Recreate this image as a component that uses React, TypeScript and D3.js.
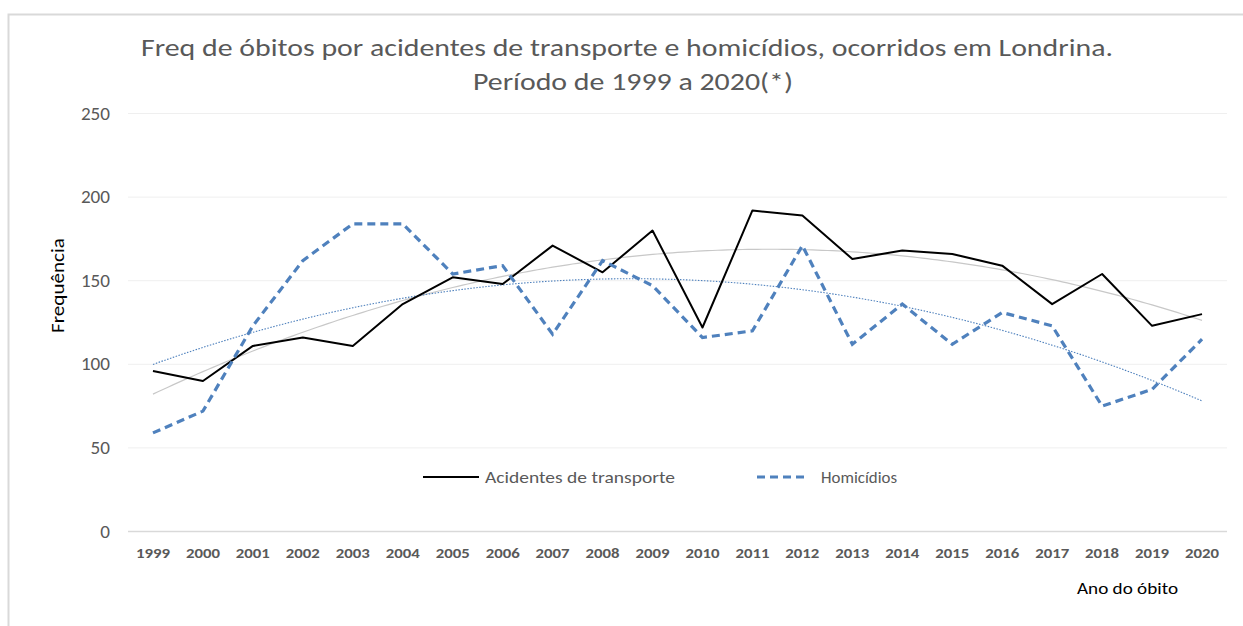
import React from "react";
import * as d3 from "d3";

const years = ["1999","2000","2001","2002","2003","2004","2005","2006","2007","2008","2009","2010","2011","2012","2013","2014","2015","2016","2017","2018","2019","2020"];
const acidentes = [96, 90, 111, 116, 111, 136, 152, 148, 171, 155, 180, 122, 192, 189, 163, 168, 166, 159, 136, 154, 123, 130];
const homicidios = [59, 72, 123, 162, 184, 184, 154, 159, 118, 162, 147, 116, 120, 171, 112, 136, 112, 131, 123, 75, 85, 115];
const yTicks = [0, 50, 100, 150, 200, 250];
const titleLines = ["Freq de óbitos por acidentes de transporte e homicídios, ocorridos em Londrina.", "Período de 1999 a 2020(*)"];
const seriesNames = ["Acidentes de transporte", "Homicídios"];

// Excel-style polynomial (order 2) trendline via least squares
function quadFit(vals: number[]) {
  let s0 = 0, s1 = 0, s2 = 0, s3 = 0, s4 = 0, t0 = 0, t1 = 0, t2 = 0;
  vals.forEach((y, i) => {
    const x = i + 1;
    s0 += 1; s1 += x; s2 += x * x; s3 += x ** 3; s4 += x ** 4;
    t0 += y; t1 += x * y; t2 += x * x * y;
  });
  const A = [[s4, s3, s2, t2], [s3, s2, s1, t1], [s2, s1, s0, t0]];
  for (let i = 0; i < 3; i++) {
    for (let k = i + 1; k < 3; k++) {
      const f = A[k][i] / A[i][i];
      for (let j = i; j < 4; j++) A[k][j] -= f * A[i][j];
    }
  }
  const c = [0, 0, 0];
  for (let i = 2; i >= 0; i--) {
    let s = A[i][3];
    for (let j = i + 1; j < 3; j++) s -= A[i][j] * c[j];
    c[i] = s / A[i][i];
  }
  return (x: number) => c[0] * x * x + c[1] * x + c[2];
}

export default function App() {
  const W = 1243, H = 626;
  const plotLeft = 128, plotRight = 1227;
  const x = d3.scaleBand<string>().domain(years).range([plotLeft, plotRight]);
  const y = d3.scaleLinear().domain([0, 250]).range([531.5, 113.5]);
  const cx = (d: string) => (x(d) as number) + x.bandwidth() / 2;

  const line = d3.line<number>().x((_, i) => cx(years[i])).y((v) => y(v));
  const fa = quadFit(acidentes);
  const fh = quadFit(homicidios);
  const steps = d3.range(0, years.length - 1 + 0.0001, 0.1);
  const trend = (f: (x: number) => number) =>
    d3.line<number>().x((t) => cx(years[0]) + t * x.step()).y((t) => y(f(t + 1)))(steps) as string;

  const font = "Calibri, Carlito, Lato, 'Open Sans', sans-serif";
  const blue = "#4f81bd";
  const titleX = [141, 473];
  const titleW = [972, 320];

  return (
    <svg width={W} height={H} style={{ position: "absolute", left: 0, top: 0, background: "#fff" }} fontFamily={font}>
      <rect x={8.5} y={14.5} width={1300} height={700} fill="#fff" stroke="#d9d9d9" strokeWidth={2} />
      {titleLines.map((t, i) => (
        <text key={i} x={titleX[i]} y={56 + i * 34} fontSize={24} fill="#595959" textLength={titleW[i]} lengthAdjust="spacingAndGlyphs">{t}</text>
      ))}
      {yTicks.map((t) => {
        const s = String(t);
        const w = s.length * 9.7;
        return (
          <g key={t}>
            <line x1={plotLeft} x2={plotRight} y1={y(t)} y2={y(t)} stroke={t === 0 ? "#d9d9d9" : "#efefef"} strokeWidth={t === 0 ? 1.5 : 1} />
            <text x={110 - w} y={y(t)} dy="0.35em" fontSize={17.5} fill="#595959" textLength={w} lengthAdjust="spacingAndGlyphs">{s}</text>
          </g>
        );
      })}
      {years.map((yr) => (
        <text key={yr} x={cx(yr) - 17} y={557.5} fontSize={14} fontWeight="bold" fill="#595959" textLength={34} lengthAdjust="spacingAndGlyphs">{yr}</text>
      ))}
      <text transform="translate(64,333) rotate(-90)" fontSize={18} fill="#000" textLength={95} lengthAdjust="spacingAndGlyphs">Frequência</text>
      <text x={1077} y={594} fontSize={17} fill="#000" textLength={101} lengthAdjust="spacingAndGlyphs">Ano do óbito</text>

      <path d={trend(fa)} fill="none" stroke="#c8c8c8" strokeWidth={1.2} />
      <path d={trend(fh)} fill="none" stroke={blue} strokeWidth={1.1} strokeDasharray="1.5 1.5" />
      <path d={line(acidentes) as string} fill="none" stroke="#000" strokeWidth={2} strokeLinejoin="round" />
      <path d={line(homicidios) as string} fill="none" stroke={blue} strokeWidth={3.2} strokeDasharray="8 5" />

      <line x1={423} x2={479} y1={477} y2={477} stroke="#000" strokeWidth={2} />
      <text x={485} y={477} dy="0.35em" fontSize={17} fill="#595959" textLength={190} lengthAdjust="spacingAndGlyphs">{seriesNames[0]}</text>
      <line x1={757} x2={808} y1={477} y2={477} stroke={blue} strokeWidth={3.2} strokeDasharray="8 5" />
      <text x={821} y={477} dy="0.35em" fontSize={17} fill="#595959" textLength={76} lengthAdjust="spacingAndGlyphs">{seriesNames[1]}</text>
    </svg>
  );
}
